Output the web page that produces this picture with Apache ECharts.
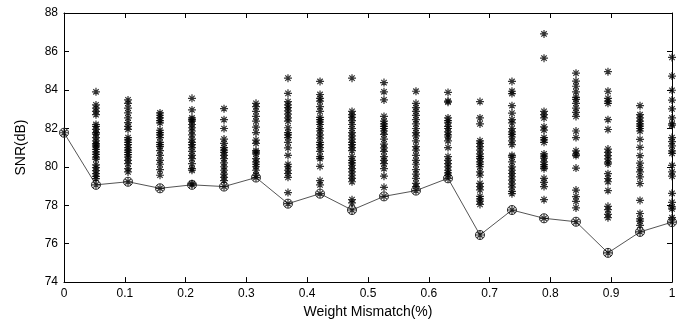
<!DOCTYPE html>
<html>
<head>
<meta charset="utf-8">
<script src="https://cdn.jsdelivr.net/npm/echarts@6/dist/echarts.min.js"></script>
<style>
  html, body { margin: 0; padding: 0; background: #fff; }
  #chart { width: 686px; height: 324px; }
</style>
</head>
<body>
<div id="chart"></div>
<script>
// Weight mismatch levels (%) for each Monte-Carlo column
const mismatch = [0, 0.0526, 0.1053, 0.1579, 0.2105, 0.2632, 0.3158, 0.3684, 0.4211,
  0.4737, 0.5263, 0.5789, 0.6316, 0.6842, 0.7368, 0.7895, 0.8421, 0.8947, 0.9474, 1];

// Worst-case SNR at each mismatch level (dB)
const worstSNR = [81.77, 79.06, 79.22, 78.88, 79.06, 78.97, 79.44, 78.08, 78.6, 77.75,
  78.46, 78.76, 79.4, 76.45, 77.75, 77.32, 77.14, 75.52, 76.61, 77.12];

// SNR of individual trials (dB), one array per mismatch level
const trials00 = [];
const trials01 = [83.90, 83.22, 83.05, 82.88, 82.71, 82.20, 82.10, 81.95, 81.78, 81.70, 81.52, 81.35, 81.20, 81.13, 81.03, 80.90, 80.78, 80.65, 80.50, 80.40, 80.10, 79.96, 79.80, 79.64, 79.50, 79.38];
const trials02 = [83.48, 83.30, 83.05, 82.80, 82.54, 82.30, 82.10, 81.95, 81.52, 81.40, 81.27, 81.15, 81.00, 80.87, 80.75, 80.63, 80.50, 80.33, 80.16, 79.90, 79.73];
const trials03 = [82.80, 82.68, 82.54, 82.40, 82.28, 81.90, 81.78, 81.66, 81.52, 81.27, 81.15, 81.05, 80.84, 80.59, 80.33, 80.13, 79.85, 79.56];
const trials04 = [83.56, 82.96, 82.54, 82.45, 82.37, 82.20, 82.03, 81.86, 81.66, 81.44, 81.27, 81.15, 81.00, 80.80, 80.59, 80.42, 80.16, 79.90, 79.82, 79.12];
const trials05 = [83.02, 82.45, 81.99, 81.44, 81.22, 81.00, 80.87, 80.75, 80.59, 80.42, 80.20, 80.00, 79.82, 79.62, 79.45, 79.28];
const trials06 = [83.30, 83.13, 82.88, 82.62, 82.37, 82.06, 81.78, 81.39, 81.22, 80.84, 80.76, 80.67, 80.42, 80.25, 80.13, 80.00, 79.82, 79.56];
const trials07 = [84.61, 83.82, 83.39, 83.22, 83.08, 82.91, 82.74, 82.54, 82.37, 82.03, 81.78, 81.66, 81.52, 81.27, 80.98, 80.59, 80.13, 80.00, 79.82, 79.65, 79.45, 78.66];
const trials08 = [84.44, 83.76, 83.56, 83.42, 83.13, 82.88, 82.57, 82.45, 82.33, 82.20, 81.99, 81.86, 81.66, 81.49, 81.27, 81.15, 81.00, 80.80, 80.53, 80.42, 80.02, 79.28, 79.06];
const trials09 = [84.61, 82.88, 82.71, 82.57, 82.40, 82.20, 81.99, 81.78, 81.61, 81.44, 81.27, 81.15, 81.00, 80.84, 80.53, 80.33, 80.20, 80.08, 79.90, 79.73, 79.56, 79.40, 79.22, 78.29, 78.12];
const trials10 = [84.38, 83.90, 83.48, 82.62, 82.37, 82.23, 82.10, 81.99, 81.86, 81.69, 81.44, 81.18, 80.98, 80.80, 80.53, 80.33, 80.16, 79.90, 79.51, 78.93];
const trials11 = [83.93, 83.30, 83.08, 82.88, 82.67, 82.45, 82.23, 81.99, 81.78, 81.61, 81.35, 81.05, 80.87, 80.59, 80.33, 80.13, 79.85, 79.62, 79.40, 79.14, 78.97];
const trials12 = [83.87, 83.42, 83.36, 82.54, 82.40, 82.28, 82.10, 81.99, 81.82, 81.66, 81.55, 81.35, 81.00, 80.53, 80.33, 80.16, 79.99, 79.82, 79.68, 79.56];
const trials13 = [83.39, 82.54, 82.23, 81.35, 81.22, 81.05, 80.87, 80.67, 80.53, 80.42, 80.25, 80.13, 80.00, 79.73, 79.56, 79.14, 78.97, 78.80, 78.46, 78.33, 78.21, 78.04];
const trials14 = [84.44, 83.93, 83.81, 83.18, 82.79, 82.45, 82.28, 81.99, 81.82, 81.69, 81.55, 81.35, 81.15, 80.59, 80.50, 80.25, 79.99, 79.82, 79.65, 79.48, 79.31, 79.11, 78.94, 78.72, 78.60];
const trials15 = [86.91, 85.65, 82.88, 82.71, 82.54, 82.08, 81.91, 81.52, 81.40, 81.27, 80.67, 80.55, 80.45, 80.25, 80.11, 79.99, 79.90, 79.40, 79.19, 78.97, 78.29];
const trials16 = [84.87, 84.46, 84.19, 83.90, 83.61, 83.51, 83.30, 83.05, 82.83, 82.62, 81.86, 81.52, 80.83, 80.66, 80.58, 79.93, 78.79, 78.45, 78.20, 77.86];
const trials17 = [84.95, 83.93, 83.56, 83.42, 83.30, 82.45, 81.94, 80.92, 80.75, 80.58, 80.41, 80.24, 80.15, 79.64, 79.39, 79.22, 78.76, 77.94, 77.77, 77.52, 77.35];
const trials18 = [83.18, 82.71, 82.54, 82.37, 82.23, 82.11, 81.99, 81.86, 81.43, 81.01, 80.58, 80.19, 79.95, 79.73, 79.47, 79.13, 78.25, 77.57, 77.29, 77.17, 76.95];
const trials19 = [85.69, 84.72, 83.98, 83.47, 83.01, 82.54, 82.23, 82.16, 81.52, 81.31, 81.09, 80.83, 80.70, 80.07, 79.73, 79.51, 78.62, 78.15, 77.91, 77.81, 77.35];

const trialSets = [trials00, trials01, trials02, trials03, trials04, trials05, trials06,
  trials07, trials08, trials09, trials10, trials11, trials12, trials13, trials14,
  trials15, trials16, trials17, trials18, trials19];

// Axis tick values
const xTicks = [0, 0.1, 0.2, 0.3, 0.4, 0.5, 0.6, 0.7, 0.8, 0.9, 1];
const yTicks = [74, 76, 78, 80, 82, 84, 86, 88];

// Scatter points: every trial plus the worst case of each column
const starPoints = [];
trialSets.forEach((set, i) => {
  set.forEach(v => starPoints.push([mismatch[i], v]));
  starPoints.push([mismatch[i], worstSNR[i]]);
});
const worstLine = mismatch.map((x, i) => [x, worstSNR[i]]);

// Asterisk marker drawn as stroked line segments
const asterisk = 'path://M5 0L5 10M0 5L10 5M1.6 1.6L8.4 8.4M8.4 1.6L1.6 8.4';

const font = 'Liberation Sans, Arial, sans-serif';
const chart = echarts.init(document.getElementById('chart'), null, { renderer: 'canvas' });

const baseX = {
  type: 'value', min: 0, max: 1, interval: 0.1,
  axisLine: { show: true, onZero: false, lineStyle: { color: '#000', width: 1 } },
  axisTick: { show: true, inside: true, length: 5, lineStyle: { color: '#000' } },
  splitLine: { show: false }
};
const baseY = {
  type: 'value', min: 74, max: 88, interval: 2,
  axisLine: { show: true, onZero: false, lineStyle: { color: '#000', width: 1 } },
  axisTick: { show: true, inside: true, length: 5, lineStyle: { color: '#000' } },
  splitLine: { show: false }
};

chart.setOption({
  animation: false,
  backgroundColor: '#fff',
  grid: { left: 64, right: 14, top: 13, bottom: 37, containLabel: false },
  xAxis: [
    Object.assign({}, baseX, {
      position: 'bottom',
      name: 'Weight Mismatch(%)',
      nameLocation: 'middle',
      nameGap: 20,
      nameTextStyle: { fontFamily: font, fontSize: 14, color: '#000' },
      axisLabel: {
        fontFamily: font, fontSize: 12, color: '#000', margin: 6,
        formatter: v => (xTicks.indexOf(Math.round(v * 10) / 10) >= 0 ? String(Math.round(v * 10) / 10) : '')
      }
    }),
    Object.assign({}, baseX, { position: 'top', axisLabel: { show: false } })
  ],
  yAxis: [
    Object.assign({}, baseY, {
      position: 'left',
      name: 'SNR(dB)',
      nameLocation: 'middle',
      nameGap: 36,
      nameTextStyle: { fontFamily: font, fontSize: 14, color: '#000' },
      axisLabel: {
        fontFamily: font, fontSize: 12, color: '#000', margin: 6,
        formatter: v => (yTicks.indexOf(v) >= 0 ? String(v) : '')
      }
    }),
    Object.assign({}, baseY, { position: 'right', axisLabel: { show: false } })
  ],
  series: [
    {
      name: 'Worst case',
      type: 'line',
      data: worstLine,
      z: 3,
      lineStyle: { color: '#555', width: 1 },
      symbol: 'circle',
      symbolSize: 9,
      showSymbol: true,
      itemStyle: { color: 'rgba(255,255,255,0)', borderColor: '#222', borderWidth: 1 }
    },
    {
      name: 'Trials',
      type: 'scatter',
      data: starPoints,
      z: 4,
      symbol: asterisk,
      symbolSize: 8,
      itemStyle: { color: 'rgba(0,0,0,0)', borderColor: '#000', borderWidth: 1.2 }
    }
  ]
});
</script>
</body>
</html>
